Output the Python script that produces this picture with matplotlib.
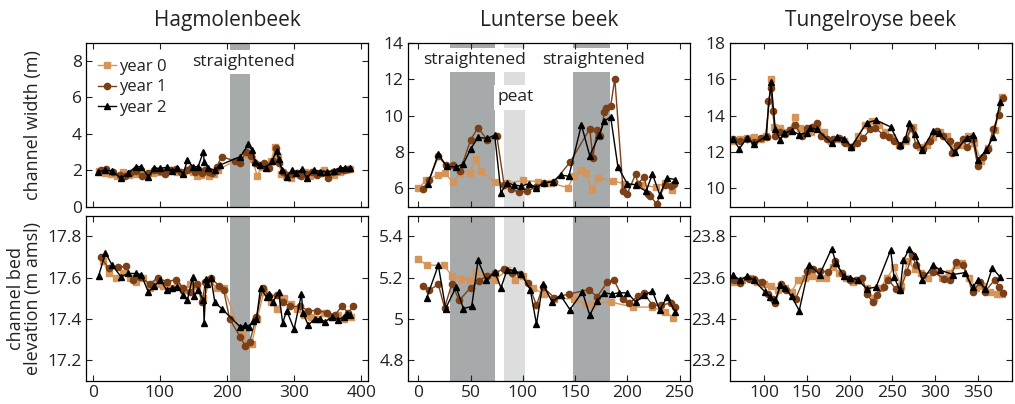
import matplotlib
matplotlib.use("Agg")
import matplotlib.pyplot as plt
from matplotlib.ticker import FuncFormatter

plt.rcParams['font.family'] = ['Open Sans', 'DejaVu Sans']
plt.rcParams['text.color'] = '#222222'
plt.rcParams['axes.labelcolor'] = '#222222'
plt.rcParams['xtick.color'] = '#222222'
plt.rcParams['ytick.color'] = '#222222'

rivers = ["Hagmolenbeek", "Lunterse beek", "Tungelroyse beek"]
years = ["year 0", "year 1", "year 2"]

# ---- Hagmolenbeek ----
hag_w_x0 = [10, 18, 27, 36, 45, 54, 63, 72, 81, 90, 99, 108, 117, 126, 135, 143, 150, 156, 162, 168,
            174, 180, 186, 230, 238, 245, 252, 259, 266, 271, 276, 281, 288, 295, 302, 309, 316, 323, 330, 337,
            344, 352, 360, 368, 376, 384]
hag_w0 = [1.95, 1.85, 1.8, 1.7, 1.9, 1.75, 1.8, 1.95, 1.75, 1.85, 1.9, 1.95, 2.0, 1.9, 1.85, 2.0, 1.9, 1.7, 1.75, 1.9,
          1.7, 1.8, 2.0, 2.9, 2.6, 1.7, 2.2, 2.3, 2.5, 3.3, 2.7, 1.8, 1.7, 1.6, 1.85, 1.75, 1.9, 1.7, 1.8, 1.85,
          2.0, 1.8, 1.75, 1.9, 2.0, 2.05]
hag_w_x1 = [12, 20, 30, 40, 48, 56, 65, 74, 83, 92, 100, 108, 116, 124, 132, 140, 147, 153, 158, 163,
            168, 173, 178, 185, 192, 212, 220, 228, 236, 242, 248, 255, 262, 268, 273, 278, 284, 290, 297, 304,
            311, 318, 326, 334, 342, 350, 358, 366, 374, 382]
hag_w1 = [2.0, 2.05, 1.9, 1.75, 1.7, 1.85, 1.95, 1.7, 1.85, 2.0, 1.95, 1.8, 2.0, 2.05, 1.9, 2.0, 2.1, 1.9, 2.0, 1.85,
          2.0, 1.9, 1.85, 2.2, 2.75, 2.5, 2.4, 3.0, 2.8, 2.4, 2.3, 2.4, 2.1, 2.5, 3.2, 2.4, 1.9, 1.75, 1.8, 1.85,
          1.7, 1.8, 1.9, 1.75, 1.85, 1.6, 1.9, 1.95, 2.0, 2.05]
hag_w_x2 = [8, 18, 29, 42, 53, 64, 72, 83, 92, 101, 110, 118, 126, 135, 141, 149, 157, 165, 166, 172,
            182, 190, 220, 232, 237, 242, 249, 258, 267, 274, 277, 282, 289, 297, 303, 312, 319, 329, 339, 349,
            359, 369, 376, 384]
hag_w2 = [1.89, 2.02, 1.96, 1.56, 1.84, 2.2, 2.2, 1.65, 2.11, 2.11, 2.16, 1.98, 2.11, 1.8, 2.56, 2.2, 2.2, 3.02, 2.47, 2.11,
          2.02, 2.29, 2.75, 3.42, 3.11, 2.47, 2.29, 2.15, 2.51, 3.05, 2.62, 2.02, 1.65, 2.02, 1.84, 2.05, 1.56, 2.02, 1.93, 1.93,
          1.96, 2.15, 2.11, 2.11]

hag_z_x0 = [15, 25, 35, 45, 55, 65, 75, 85, 95, 105, 115, 125, 135, 145, 155, 165, 175, 185, 195, 222,
            230, 237, 245, 255, 265, 275, 285, 295, 305, 315, 325, 335, 345, 355, 365, 375, 385]
hag_z0 = [17.68, 17.62, 17.6, 17.62, 17.6, 17.58, 17.6, 17.55, 17.57, 17.56, 17.55, 17.56, 17.54, 17.57, 17.56, 17.5,
          17.58, 17.55, 17.55, 17.32, 17.28, 17.28, 17.4, 17.53, 17.48, 17.45, 17.5, 17.47, 17.45, 17.42, 17.41, 17.4,
          17.43, 17.41, 17.42, 17.4, 17.41]
hag_z_x1 = [12, 24, 38, 49, 60, 70, 85, 97, 110, 124, 135, 145, 155, 163, 168, 176, 188, 195, 204, 220,
            227, 234, 244, 253, 263, 275, 284, 294, 309, 321, 334, 349, 361, 371, 381, 388]
hag_z1 = [17.70, 17.645, 17.65, 17.655, 17.59, 17.605, 17.57, 17.6, 17.58, 17.59, 17.55, 17.53, 17.57, 17.48, 17.58,
          17.6, 17.56, 17.54, 17.40, 17.31, 17.27, 17.29, 17.41, 17.55, 17.51, 17.515, 17.48, 17.46, 17.46, 17.44,
          17.44, 17.43, 17.42, 17.46, 17.43, 17.46]
hag_z_x2 = [9, 19, 29, 42, 53, 64, 72, 83, 92, 101, 110, 118, 126, 135, 141, 149, 151, 157, 165, 166,
            169, 171, 176, 182, 192, 220, 227, 233, 239, 244, 250, 259, 263, 268, 277, 283, 289, 300, 311, 313,
            321, 331, 339, 346, 356, 366, 374, 379, 384]
hag_z2 = [17.61, 17.72, 17.66, 17.605, 17.62, 17.62, 17.615, 17.53, 17.56, 17.59, 17.54, 17.55, 17.555, 17.515, 17.49,
          17.605, 17.51, 17.54, 17.49, 17.38, 17.595, 17.57, 17.6, 17.48, 17.45, 17.36, 17.37, 17.36, 17.39, 17.4,
          17.55, 17.505, 17.52, 17.48, 17.53, 17.38, 17.44, 17.35, 17.52, 17.43, 17.37, 17.4, 17.4, 17.385, 17.41,
          17.395, 17.41, 17.425, 17.42]

# ---- Lunterse beek ----
lun_w_x0 = [0, 7, 19, 25, 33, 40, 49, 55, 60, 73, 85, 100, 114, 127, 143, 149, 156, 160, 166, 172,
            186, 197, 213, 227, 236, 243]
lun_w0 = [6.0, 6.44, 6.76, 6.85, 6.35, 6.85, 6.85, 7.62, 6.96, 6.35, 6.29, 6.44, 6.38, 6.29, 6.05, 6.7, 7.0, 6.83,
          5.96, 6.58, 6.42, 6.26, 6.2, 6.07, 6.31, 5.93]
lun_w_x1 = [4, 10, 19, 26, 33, 40, 50, 57, 66, 75, 82, 89, 96, 104, 113, 120, 130, 145, 164, 167,
            171, 174, 178, 180, 184, 188, 196, 200, 208, 210, 216, 220, 222, 228, 236, 242, 245]
lun_w1 = [5.98, 6.44, 7.76, 7.29, 7.29, 6.98, 8.67, 9.34, 8.65, 8.89, 6.2, 5.95, 5.8, 5.84, 6.1, 6.31, 6.38, 7.43,
          9.27, 7.67, 9.23, 8.87, 10.18, 10.41, 10.5, 12.03, 5.84, 5.71, 6.8, 6.26, 6.62, 5.71, 5.58, 5.16, 6.2,
          6.13, 6.26]
lun_w_x2 = [9, 19, 27, 36, 43, 50, 57, 66, 73, 79, 85, 91, 98, 106, 113, 120, 129, 136, 144, 156,
            164, 173, 178, 184, 191, 200, 208, 218, 224, 231, 238, 246]
lun_w2 = [6.26, 7.89, 7.22, 7.17, 7.35, 8.17, 8.8, 8.75, 8.93, 5.77, 6.31, 6.2, 6.13, 6.26, 6.04, 6.31, 6.38, 6.74,
          6.67, 9.49, 7.8, 8.93, 9.69, 9.94, 7.17, 6.26, 6.2, 5.84, 6.8, 5.66, 6.57, 6.49]

lun_z_x0 = [0, 8, 24, 32, 41, 49, 55, 64, 73, 85, 92, 100, 110, 120, 130, 149, 160, 168, 184, 205,
            224, 236, 244]
lun_z0 = [5.29, 5.26, 5.26, 5.21, 5.195, 5.187, 5.228, 5.206, 5.19, 5.235, 5.187, 5.21, 5.15, 5.12, 5.098, 5.098,
          5.07, 5.074, 5.082, 5.057, 5.057, 5.033, 5.006]
lun_z_x1 = [4, 10, 19, 25, 32, 39, 50, 58, 66, 73, 82, 90, 97, 105, 113, 119, 130, 144, 163, 171,
            181, 187, 196, 202, 210, 216, 224, 232, 242, 246]
lun_z1 = [5.16, 5.138, 5.167, 5.054, 5.17, 5.09, 5.151, 5.184, 5.21, 5.222, 5.243, 5.222, 5.219, 5.174, 5.066,
          5.155, 5.103, 5.12, 5.142, 5.107, 5.179, 5.19, 5.098, 5.077, 5.109, 5.125, 5.066, 5.066, 5.077, 5.057]
lun_z_x2 = [8, 19, 26, 36, 43, 51, 57, 65, 73, 79, 85, 91, 98, 107, 113, 119, 128, 136, 145, 157,
            164, 171, 178, 185, 192, 200, 208, 216, 224, 231, 238, 246]
lun_z2 = [5.103, 5.26, 5.05, 5.155, 5.05, 5.06, 5.283, 5.187, 5.228, 5.151, 5.239, 5.235, 5.219, 5.142, 4.974,
          5.17, 5.082, 5.114, 5.045, 5.13, 5.018, 5.087, 5.126, 5.12, 5.126, 5.126, 5.082, 5.114, 5.135, 5.041,
          5.106, 5.033]

# ---- Tungelroyse beek ----
tun_w_x0 = [64, 72, 80, 88, 96, 102, 108, 112, 118, 124, 130, 136, 142, 148, 155, 162, 170, 178, 186, 194,
            202, 210, 218, 226, 234, 242, 250, 258, 266, 274, 282, 290, 298, 306, 314, 322, 330, 338, 346, 354,
            362, 370, 378]
tun_w0 = [12.6, 12.7, 12.75, 12.8, 12.7, 12.9, 16.0, 13.4, 13.3, 13.1, 13.2, 13.9, 13.3, 13.2, 13.1, 13.45, 13.1,
          12.6, 12.7, 12.6, 12.3, 12.9, 13.5, 13.7, 13.5, 13.1, 12.8, 12.4, 12.6, 13.4, 12.3, 12.4, 12.8, 13.1,
          12.9, 12.2, 12.4, 12.9, 12.5, 11.5, 12.2, 13.2, 15.0]
tun_w_x1 = [64, 72, 80, 88, 96, 103, 105, 108, 110, 113, 118, 124, 130, 136, 144, 150, 156, 162, 167, 174,
            181, 188, 195, 202, 209, 216, 224, 230, 239, 246, 252, 259, 266, 272, 278, 286, 294, 302, 309, 317,
            320, 326, 333, 337, 344, 350, 356, 362, 368, 375, 379]
tun_w1 = [12.69, 12.6, 12.7, 12.55, 12.75, 12.8, 14.78, 15.5, 14.24, 12.9, 13.1, 13.0, 13.2, 13.5, 12.87, 13.3,
          13.4, 13.6, 12.87, 12.7, 12.69, 12.75, 12.5, 12.29, 12.5, 12.78, 13.24, 13.33, 12.96, 12.8, 12.6, 12.33,
          12.69, 13.33, 12.36, 12.15, 12.6, 13.15, 12.87, 12.6, 11.93, 12.4, 12.69, 12.29, 12.69, 11.24, 11.75,
          12.15, 13.27, 14.05, 14.96]
tun_w_x2 = [64, 71, 80, 88, 102, 108, 113, 119, 123, 132, 141, 150, 154, 162, 179, 185, 194, 202, 220, 231,
            248, 259, 265, 270, 276, 285, 298, 305, 323, 337, 344, 350, 360, 368, 376]
tun_w2 = [12.69, 12.18, 12.78, 12.42, 12.87, 15.87, 13.24, 12.65, 13.02, 13.18, 12.96, 13.05, 13.33, 13.24, 12.47,
          12.82, 12.73, 12.29, 13.6, 13.75, 13.38, 12.36, 12.69, 13.6, 13.0, 12.11, 13.18, 13.05, 12.0, 12.78,
          12.91, 11.56, 12.11, 12.84, 14.73]

tun_z_x0 = [65, 74, 83, 92, 100, 108, 116, 124, 132, 140, 148, 156, 164, 172, 180, 188, 196, 204, 212, 220,
            228, 236, 244, 252, 260, 268, 276, 284, 292, 300, 308, 316, 324, 332, 340, 348, 356, 364, 372, 378]
tun_z0 = [23.58, 23.59, 23.6, 23.58, 23.57, 23.56, 23.54, 23.55, 23.53, 23.59, 23.6, 23.61, 23.6, 23.6, 23.65,
          23.62, 23.6, 23.58, 23.59, 23.55, 23.5, 23.55, 23.6, 23.65, 23.56, 23.68, 23.64, 23.62, 23.6, 23.63,
          23.6, 23.62, 23.66, 23.67, 23.6, 23.55, 23.56, 23.53, 23.52, 23.52]
tun_z_x1 = [65, 72, 82, 88, 97, 105, 110, 113, 120, 126, 137, 150, 157, 165, 175, 183, 191, 200, 208, 215,
            220, 227, 232, 240, 245, 254, 259, 267, 273, 278, 286, 298, 310, 317, 325, 333, 344, 353, 358, 370,
            375, 380]
tun_z1 = [23.587, 23.576, 23.595, 23.595, 23.579, 23.522, 23.498, 23.476, 23.571, 23.538, 23.498, 23.631, 23.641,
          23.631, 23.628, 23.68, 23.62, 23.587, 23.59, 23.598, 23.522, 23.481, 23.514, 23.554, 23.59, 23.546,
          23.538, 23.628, 23.709, 23.66, 23.615, 23.628, 23.595, 23.587, 23.676, 23.66, 23.53, 23.579, 23.53,
          23.59, 23.554, 23.527]
tun_z_x2 = [64, 72, 80, 88, 101, 107, 113, 119, 124, 132, 141, 153, 165, 179, 184, 193, 201, 210, 220, 231,
            248, 252, 259, 263, 270, 277, 285, 298, 306, 321, 335, 344, 350, 359, 367, 376]
tun_z2 = [23.611, 23.587, 23.608, 23.587, 23.53, 23.506, 23.49, 23.563, 23.55, 23.51, 23.44, 23.663, 23.615,
          23.74, 23.673, 23.608, 23.6, 23.587, 23.546, 23.554, 23.733, 23.603, 23.538, 23.685, 23.74, 23.704,
          23.587, 23.66, 23.636, 23.615, 23.624, 23.554, 23.587, 23.546, 23.647, 23.603]

# reaches (x from, x to)
hag_straight = [(204, 235)]
lun_straight = [(30, 73), (147.5, 183)]
lun_peat = [(82, 102)]
tun_straight = []
tun_peat = []

width_x = [[hag_w_x0, hag_w_x1, hag_w_x2], [lun_w_x0, lun_w_x1, lun_w_x2], [tun_w_x0, tun_w_x1, tun_w_x2]]
width_y = [[hag_w0, hag_w1, hag_w2], [lun_w0, lun_w1, lun_w2], [tun_w0, tun_w1, tun_w2]]
bed_x = [[hag_z_x0, hag_z_x1, hag_z_x2], [lun_z_x0, lun_z_x1, lun_z_x2], [tun_z_x0, tun_z_x1, tun_z_x2]]
bed_y = [[hag_z0, hag_z1, hag_z2], [lun_z0, lun_z1, lun_z2], [tun_z0, tun_z1, tun_z2]]
straight = [hag_straight, lun_straight, tun_straight]
peat = [[], lun_peat, tun_peat]

xlims = [(-10, 410), (-10, 260), (60, 390)]
xticks = [[0, 100, 200, 300, 400], [0, 50, 100, 150, 200, 250], [100, 150, 200, 250, 300, 350]]
wlims = [(0, 9), (5, 14), (9, 18)]
wticks = [[0, 2, 4, 6, 8], [6, 8, 10, 12, 14], [10, 12, 14, 16, 18]]
zlims = [(17.1, 17.9), (4.7, 5.5), (23.1, 23.9)]
zticks = [[17.2, 17.4, 17.6, 17.8], [4.8, 5.0, 5.2, 5.4], [23.2, 23.4, 23.6, 23.8]]

colors = ["#d4945a", "#7b4017", "black"]
markers = ["s", "o", "^"]
dark_grey = "#a6aaaa"
light_grey = "#dcdede"

fig = plt.figure(figsize=(10.15, 4.04), dpi=100)
lefts = [0.0847, 0.402, 0.7192]
fmt = FuncFormatter(lambda v, p: "%g" % round(v, 3))


def style(ax, i, lims, ticks):
    ax.set_xlim(xlims[i])
    ax.set_xticks(xticks[i])
    ax.set_ylim(lims)
    ax.set_yticks(ticks)
    ax.yaxis.set_major_formatter(fmt)
    ax.tick_params(direction="in", top=True, right=True, length=4, width=0.8, labelsize=12.5, pad=3)
    for s in ax.spines.values():
        s.set_linewidth(0.9)


for i in range(3):
    ax_w = fig.add_axes([lefts[i], 0.4884, 0.2778, 0.4059])
    ax_z = fig.add_axes([lefts[i], 0.0577, 0.2778, 0.4083])
    for ax in (ax_w, ax_z):
        for a, b in straight[i]:
            ax.axvspan(a, b, color=dark_grey, lw=0, zorder=0)
        for a, b in peat[i]:
            ax.axvspan(a, b, color=light_grey, lw=0, zorder=0)
    for k in range(3):
        ax_w.plot(width_x[i][k], width_y[i][k], marker=markers[k], color=colors[k], ms=4.5, lw=1.0, label=years[k])
        ax_z.plot(bed_x[i][k], bed_y[i][k], marker=markers[k], color=colors[k], ms=4.5, lw=1.0)
    style(ax_w, i, wlims[i], wticks[i])
    style(ax_z, i, zlims[i], zticks[i])
    ax_w.tick_params(labelbottom=False)
    ax_w.set_title(rivers[i], fontsize=15, pad=12)

box = dict(facecolor="white", edgecolor="none", pad=3)
axes = fig.axes
axes[0].text(224, 7.95, "straightened", ha="center", va="center", fontsize=12.5, bbox=box, zorder=1)
axes[2].text(54, 13.05, "straightened", ha="center", va="center", fontsize=12.5, bbox=box, zorder=1)
axes[2].text(167.5, 13.05, "straightened", ha="center", va="center", fontsize=12.5, bbox=box, zorder=1)
axes[2].text(93.5, 11.0, "peat", ha="center", va="center", fontsize=12.5, bbox=box, zorder=1)

axes[0].legend(loc="upper left", bbox_to_anchor=(0.0, 0.97), frameon=False, fontsize=12,
               handlelength=1.1, handletextpad=0.2, labelspacing=0.25, borderaxespad=0.3)

axes[0].set_ylabel("channel width (m)", fontsize=13)
axes[1].set_ylabel("channel bed\nelevation (m amsl)", fontsize=13, linespacing=0.95)
axes[0].yaxis.set_label_coords(-0.155, 0.5)
axes[1].yaxis.set_label_coords(-0.155, 0.5)

plt.savefig("out.png", dpi=100)
